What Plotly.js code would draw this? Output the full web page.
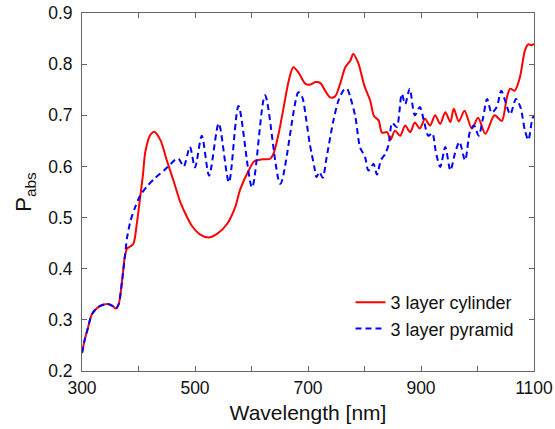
<!DOCTYPE html>
<html>
<head>
<meta charset="utf-8">
<script src="https://cdn.plot.ly/plotly-3.0.1.min.js"></script>
<style>html,body{margin:0;padding:0;background:#fff;}#chart{width:555px;height:429px;}</style>
</head>
<body>
<div id="chart"></div>
<script>
// Wavelength (nm) and absorption for each series
const cylWavelength = [300,305,310,318,330,344,353,360,365,371,376,380,385,391,397,403,408,412,421,428,439,450,462,474,485,495,510,524,539,557,571,580,595,605,619,633,639,648,657,666,674,683,695,704,713,722,730,739,748,757,766,775,780,789,800,810,817,825,831,840,846,854,863,872,881,889,898,907,916,925,934,943,952,958,967,977,990,1001,1014,1030,1043,1052,1058,1066,1075,1084,1090,1095,1100];
const cylPabs = [0.235,0.262,0.282,0.312,0.326,0.331,0.328,0.322,0.331,0.377,0.425,0.440,0.443,0.449,0.488,0.540,0.585,0.628,0.662,0.668,0.651,0.612,0.572,0.530,0.503,0.483,0.466,0.461,0.468,0.488,0.520,0.555,0.592,0.610,0.614,0.615,0.625,0.664,0.716,0.768,0.794,0.784,0.762,0.760,0.765,0.763,0.749,0.735,0.737,0.762,0.794,0.807,0.820,0.802,0.757,0.729,0.698,0.690,0.666,0.667,0.652,0.670,0.660,0.680,0.667,0.686,0.674,0.693,0.680,0.700,0.683,0.706,0.687,0.713,0.688,0.709,0.674,0.695,0.664,0.700,0.689,0.735,0.752,0.748,0.774,0.827,0.839,0.837,0.840];

const pyrWavelength = [300,305,310,318,330,344,353,360,365,371,376,380,386,394,403,415,430,445,457,465,471,480,491,500,512,525,542,560,577,601,624,651,683,690,697,703,707,711,715,720,726,733,745,754,763,769,775,784,792,801,807,816,822,829,837,843,849,857,866,872,880,889,898,905,913,920,926,934,943,952,960,968,978,987,994,1002,1010,1017,1025,1034,1042,1049,1058,1068,1076,1084,1090,1097,1100];
const pyrPabs = [0.235,0.262,0.282,0.312,0.326,0.331,0.328,0.322,0.331,0.377,0.425,0.462,0.494,0.520,0.543,0.561,0.578,0.592,0.605,0.613,0.615,0.600,0.638,0.598,0.660,0.582,0.684,0.569,0.718,0.559,0.739,0.566,0.745,0.735,0.690,0.645,0.622,0.600,0.579,0.589,0.578,0.618,0.690,0.729,0.749,0.752,0.735,0.696,0.638,0.618,0.592,0.605,0.584,0.612,0.625,0.644,0.685,0.677,0.742,0.722,0.752,0.700,0.716,0.690,0.660,0.665,0.630,0.599,0.638,0.592,0.625,0.648,0.612,0.670,0.680,0.660,0.696,0.732,0.705,0.716,0.748,0.728,0.702,0.732,0.716,0.670,0.652,0.693,0.700];

const seriesNames = ["3 layer cylinder", "3 layer pyramid"];
const xTickVals = [300,400,500,600,700,800,900,1000,1100];
const xTickText = ["300","","500","","700","","900","","1100"];
const yTickVals = [0.2,0.3,0.4,0.5,0.6,0.7,0.8,0.9];
const yTickText = ["0.2","0.3","0.4","0.5","0.6","0.7","0.8","0.9"];

const fontFam = "Liberation Sans, Arial, sans-serif";

const traces = [
  {x: cylWavelength, y: cylPabs, name: seriesNames[0], type: "scatter", mode: "lines",
   line: {color: "#ff0000", width: 2, shape: "spline", smoothing: 0.8}},
  {x: pyrWavelength, y: pyrPabs, name: seriesNames[1], type: "scatter", mode: "lines",
   line: {color: "#0000ff", width: 2, dash: "6px,4px", shape: "spline", smoothing: 0.8}}
];

const axisCommon = {
  showline: true, linecolor: "#666", linewidth: 1, mirror: "ticks",
  ticks: "inside", ticklen: 5, tickcolor: "#666", showgrid: false, zeroline: false,
  tickfont: {family: fontFam, size: 17.5, color: "#111"}
};

const layout = {
  width: 555, height: 429,
  margin: {l: 82, r: 21, t: 13, b: 58},
  paper_bgcolor: "#fff", plot_bgcolor: "#fff",
  font: {family: fontFam, color: "#111"},
  xaxis: Object.assign({}, axisCommon, {
    range: [300, 1100], tickmode: "array", tickvals: xTickVals, ticktext: xTickText,
    ticklabelstandoff: 1,
    title: {text: "Wavelength [nm]", font: {family: fontFam, size: 21, color: "#111"}, standoff: 8}
  }),
  yaxis: Object.assign({}, axisCommon, {
    range: [0.2, 0.9], tickmode: "array", tickvals: yTickVals, ticktext: yTickText,
    ticklabelstandoff: 5,
    title: {text: "P<sub>abs</sub>", font: {family: fontFam, size: 22, color: "#111"}, standoff: 10}
  }),
  showlegend: true,
  legend: {x: 0.594, y: 0.243, xanchor: "left", yanchor: "top", bgcolor: "rgba(0,0,0,0)",
    font: {family: fontFam, size: 18, color: "#111"}, tracegroupgap: 0, itemwidth: 30}
};

Plotly.newPlot("chart", traces, layout, {displayModeBar: false, staticPlot: true});
</script>
</body>
</html>
